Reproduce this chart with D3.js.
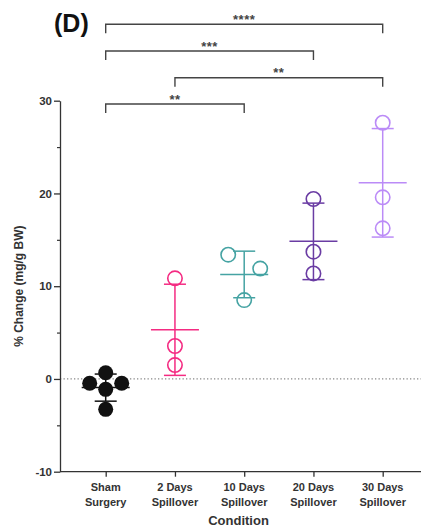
<!DOCTYPE html>
<html>
<head>
<meta charset="utf-8">
<script src="https://cdn.jsdelivr.net/npm/d3@7"></script>
<style>
  html, body { margin: 0; padding: 0; background: #fff; }
  svg { display: block; font-family: "Liberation Sans", Arial, sans-serif; }
</style>
</head>
<body>
<svg id="chart" width="425" height="529"></svg>
<script>
// Group names (two-line tick labels) and per-group measurements (% change, mg/g BW)
const categories = ["Sham Surgery", "2 Days Spillover", "10 Days Spillover", "20 Days Spillover", "30 Days Spillover"];
const categoryLines = [["Sham", "Surgery"], ["2 Days", "Spillover"], ["10 Days", "Spillover"], ["20 Days", "Spillover"], ["30 Days", "Spillover"]];
const shamSurgery = [0.67, -0.47, -0.47, -1.12, -3.28];
const days2Spillover = [10.85, 3.55, 1.5];
const days10Spillover = [13.4, 11.9, 8.5];
const days20Spillover = [19.4, 13.72, 11.38];
const days30Spillover = [27.62, 19.58, 16.24];
const groupColors = ["#111111", "#f42b82", "#45a3a3", "#6a3ca3", "#bb8bf7"];
const groupFilled = [true, false, false, false, false];

// Y-axis tick values
const majorTicks = [-10, 0, 10, 20, 30];
const minorTicks = [-5, 5, 15, 25];

// Significance comparisons: [from group, to group, label]
const comparisons = [
  ["Sham Surgery", "30 Days Spillover", "****"],
  ["Sham Surgery", "20 Days Spillover", "***"],
  ["2 Days Spillover", "30 Days Spillover", "**"],
  ["Sham Surgery", "10 Days Spillover", "**"]
];

const groups = [shamSurgery, days2Spillover, days10Spillover, days20Spillover, days30Spillover];

const svg = d3.select("#chart");
const textColor = "#333";
const axisColor = "#333";

const plotLeft = 60, plotRight = 421, plotTop = 100.7, plotBottom = 471.7;
const y = d3.scaleLinear().domain([-10, 30]).range([plotBottom, plotTop]);
const x = d3.scalePoint().domain(categories).range([105.7, 382.7]);

// Zero reference line
svg.append("line")
  .attr("x1", plotLeft).attr("x2", plotRight)
  .attr("y1", y(0)).attr("y2", y(0))
  .attr("stroke", "#888").attr("stroke-width", 1.3)
  .attr("stroke-dasharray", "1.3,2.2");

// Y axis (plain hyphen for negatives)
const yAxis = svg.append("g")
  .attr("transform", `translate(${plotLeft},0)`)
  .call(d3.axisLeft(y).tickValues(majorTicks).tickSize(6).tickSizeOuter(0).tickPadding(2)
    .tickFormat(d => String(d)));
yAxis.select(".domain").attr("stroke", axisColor).attr("stroke-width", 1.3);
yAxis.selectAll(".tick line").attr("stroke", axisColor).attr("stroke-width", 1.3);
yAxis.selectAll(".tick text")
  .attr("fill", textColor).attr("font-size", 11.5).attr("font-weight", "bold")
  .attr("font-family", "Liberation Sans, Arial, sans-serif");

const yMinor = svg.append("g")
  .attr("transform", `translate(${plotLeft},0)`)
  .call(d3.axisLeft(y).tickValues(minorTicks).tickSize(3).tickSizeOuter(0).tickFormat(""));
yMinor.select(".domain").remove();
yMinor.selectAll(".tick line").attr("stroke", axisColor).attr("stroke-width", 1.2);

// X axis
svg.append("line")
  .attr("x1", plotLeft).attr("x2", plotRight)
  .attr("y1", plotBottom).attr("y2", plotBottom)
  .attr("stroke", axisColor).attr("stroke-width", 1.3);
const xAxis = svg.append("g")
  .attr("transform", `translate(0,${plotBottom})`)
  .call(d3.axisBottom(x).tickSize(5).tickFormat(""));
xAxis.select(".domain").remove();
xAxis.selectAll(".tick line").attr("stroke", axisColor).attr("stroke-width", 1.3);

categories.forEach((c, i) => {
  const t = svg.append("text")
    .attr("x", x(c)).attr("y", 490.5)
    .attr("text-anchor", "middle")
    .attr("font-size", 11).attr("font-weight", "bold").attr("fill", textColor);
  categoryLines[i].forEach((line, j) => {
    t.append("tspan").attr("x", x(c)).attr("dy", j === 0 ? 0 : 15).text(line);
  });
});

// Axis titles
svg.append("text")
  .attr("x", (plotLeft + plotRight) / 2 - 2).attr("y", 525)
  .attr("text-anchor", "middle")
  .attr("font-size", 13).attr("font-weight", "bold").attr("fill", textColor)
  .text("Condition");

svg.append("text")
  .attr("transform", `translate(23,${(plotTop + plotBottom) / 2}) rotate(-90)`)
  .attr("text-anchor", "middle")
  .attr("font-size", 12).attr("font-weight", "bold").attr("fill", textColor)
  .text("% Change (mg/g BW)");

// Panel letter
svg.append("text")
  .attr("x", 54).attr("y", 32)
  .attr("font-size", 25).attr("font-weight", "bold").attr("fill", "#111")
  .text("(D)");

// Mean and SD per group
const r = 7.2;
const meanHalf = 24, capHalf = 11;
const step = 16;

// Balanced swarm offsets so touching points spread sideways
function swarmOffsets(vals) {
  const order = vals.map((v, i) => i).sort((a, b) => vals[b] - vals[a]);
  const off = new Array(vals.length).fill(0);
  const placed = [];
  const candidates = [0, step, -step, 2 * step, -2 * step];
  order.forEach(i => {
    const py = y(vals[i]);
    for (const c of candidates) {
      const ok = placed.every(j => Math.hypot(off[j] - c, y(vals[j]) - py) >= 2 * r + 0.8);
      if (ok) { off[i] = c; break; }
    }
    placed.push(i);
  });
  // vertical clusters: consecutive points closer than a diameter
  const clusters = [];
  let cur = [order[0]];
  for (let k = 1; k < order.length; k++) {
    if (Math.abs(y(vals[order[k]]) - y(vals[order[k - 1]])) < 2 * r + 0.8) cur.push(order[k]);
    else { clusters.push(cur); cur = [order[k]]; }
  }
  clusters.push(cur);
  clusters.forEach(cl => {
    const sum = d3.sum(cl, i => off[i]);
    if (sum !== 0) cl.forEach(i => { if (off[i] === 0) off[i] = -Math.sign(sum) * step; });
  });
  return off;
}

groups.forEach((vals, gi) => {
  const cx = x(categories[gi]);
  const color = groupColors[gi];
  const m = d3.mean(vals), sd = d3.deviation(vals);
  const g = svg.append("g");
  const sw = 1.5;
  g.append("line").attr("x1", cx).attr("x2", cx).attr("y1", y(m + sd)).attr("y2", y(m - sd))
    .attr("stroke", color).attr("stroke-width", sw);
  g.append("line").attr("x1", cx - meanHalf).attr("x2", cx + meanHalf).attr("y1", y(m)).attr("y2", y(m))
    .attr("stroke", color).attr("stroke-width", sw);
  [m + sd, m - sd].forEach(v => {
    g.append("line").attr("x1", cx - capHalf).attr("x2", cx + capHalf).attr("y1", y(v)).attr("y2", y(v))
      .attr("stroke", color).attr("stroke-width", sw);
  });
  const off = swarmOffsets(vals);
  g.selectAll("circle").data(vals).join("circle")
    .attr("cx", (d, i) => cx + off[i])
    .attr("cy", d => y(d))
    .attr("r", groupFilled[gi] ? 7.5 : r)
    .attr("fill", groupFilled[gi] ? color : "none")
    .attr("stroke", color)
    .attr("stroke-width", groupFilled[gi] ? 0 : 1.6);
});

// Significance brackets
const bracketY = [24.3, 51, 77.7, 104];
const legLen = 9;
comparisons.forEach(([a, b, label], i) => {
  const x1 = x(a), x2 = x(b), by = bracketY[i];
  svg.append("path")
    .attr("d", `M${x1},${by + legLen}V${by}H${x2}V${by + legLen}`)
    .attr("fill", "none").attr("stroke", "#444").attr("stroke-width", 1.4);
  svg.append("text")
    .attr("x", (x1 + x2) / 2).attr("y", by - 0.5)
    .attr("text-anchor", "middle")
    .attr("font-size", 13).attr("font-weight", "bold").attr("fill", "#444")
    .attr("letter-spacing", 0.5)
    .text(label);
});
</script>
</body>
</html>
